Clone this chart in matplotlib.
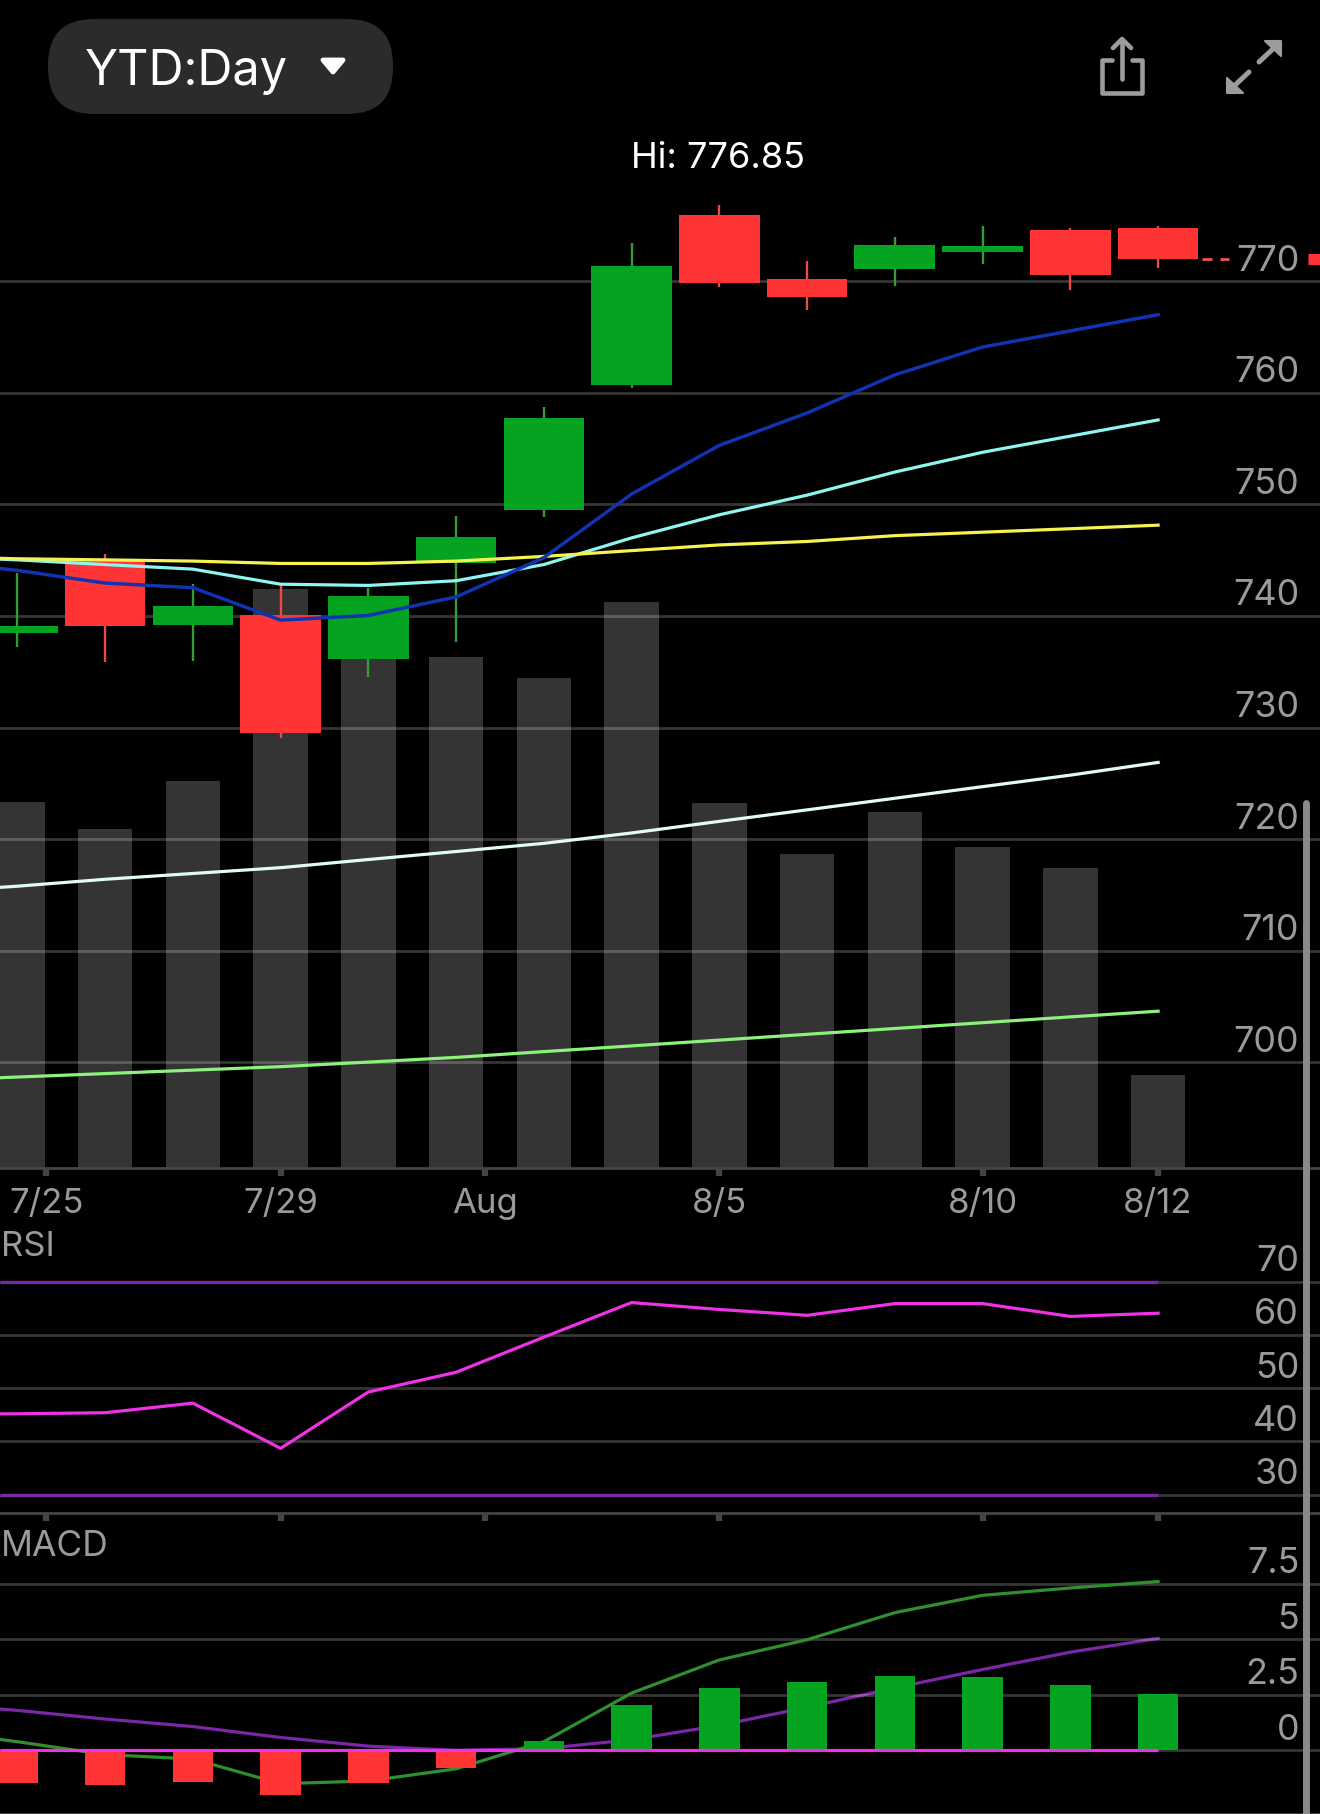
import numpy as np
import matplotlib
matplotlib.use('Agg')
import matplotlib.pyplot as plt
from matplotlib.patches import FancyBboxPatch, Polygon

plt.rcParams['font.family'] = ['Inter', 'DejaVu Sans']

W, H = 1320, 1814
SCALE = 1320 / 1141

GREY_TXT = '#9a9a9a'
ICON = '#9c9c9c'
RED = '#ff3535'
GREEN = '#04a320'
WICK_RED = '#f04848'
WICK_GREEN = '#2f9f33'

days = np.arange(14)
line_days = np.arange(-1, 14)
opens = [738.48, 745.02, 739.21, 740.04, 736.10, 744.70, 749.47, 760.67, 775.91, 770.21, 771.04, 772.59, 774.56, 774.77]
closes = [739.11, 739.11, 740.87, 729.47, 741.80, 747.09, 757.77, 771.35, 769.79, 768.55, 773.21, 773.11, 770.52, 771.97]
highs = [743.88, 745.53, 742.84, 742.84, 742.53, 748.95, 758.70, 773.42, 776.84, 771.76, 773.94, 774.98, 774.77, 774.98]
lows = [737.24, 735.89, 736.00, 729.05, 734.55, 737.66, 748.85, 760.46, 769.48, 767.41, 769.59, 771.56, 769.17, 771.14]
volume = [317, 293, 335, 501, 460, 442, 424, 490, 316, 272, 308, 278, 260, 81]

ma_blue = [744.91, 744.08, 742.94, 742.53, 739.62, 740.04, 741.70, 745.22, 750.92, 755.28, 758.18, 761.60, 764.09, 765.54, 766.99]
ma_cyan = [745.33, 745.02, 744.60, 744.19, 742.84, 742.73, 743.15, 744.60, 746.99, 749.06, 750.82, 752.89, 754.66, 756.11, 757.56]
ma_yellow = [745.33, 745.12, 745.02, 744.91, 744.70, 744.70, 744.91, 745.33, 745.85, 746.36, 746.67, 747.19, 747.50, 747.81, 748.13]
ma_white = [715.26, 715.78, 716.40, 716.92, 717.44, 718.17, 718.89, 719.62, 720.55, 721.59, 722.62, 723.66, 724.70, 725.73, 726.87]
ma_green = [698.37, 698.68, 698.99, 699.30, 699.61, 700.02, 700.44, 700.96, 701.47, 701.99, 702.51, 703.03, 703.55, 704.07, 704.58]

rsi = [45.1, 45.2, 45.4, 47.2, 38.7, 49.3, 53.0, 59.6, 66.1, 64.8, 63.7, 65.9, 65.9, 63.5, 64.1]
macd_hist = [-1.45, -1.55, -1.41, -2.0, -1.49, -0.78, 0.42, 2.03, 2.81, 3.07, 3.36, 3.31, 2.94, 2.55]
macd_line = [0.9, 0.39, -0.19, -0.39, -1.5, -1.38, -0.83, 0.39, 2.58, 4.07, 4.98, 6.2, 6.98, 7.31, 7.6]
macd_signal = [2.1, 1.8, 1.41, 1.07, 0.58, 0.19, 0.0, 0.08, 0.48, 1.12, 1.94, 2.81, 3.64, 4.42, 5.04]

date_ticks = [0.33, 3, 5.33, 8, 11, 13]
date_labels = ['7/25', '7/29', 'Aug', '8/5', '8/10', '8/12']
price_ticks = [700, 710, 720, 730, 740, 750, 760, 770]
rsi_ticks = [30, 40, 50, 60, 70]
macd_ticks = [0, 2.5, 5, 7.5]
macd_tick_labels = ['0', '2.5', '5', '7.5']

XLIM = (-0.198, 14.845)


def panel(fig, top, bottom):
    # top / bottom given in px of the 1141 wide view of the picture
    top, bottom = top * SCALE, bottom * SCALE
    ax = fig.add_axes([0, 1 - bottom / H, 1, (bottom - top) / H])
    ax.set_facecolor('none')
    ax.set_xlim(*XLIM)
    for side in ['top', 'left', 'right']:
        ax.spines[side].set_visible(False)
    ax.spines['bottom'].set_color('#444444')
    ax.spines['bottom'].set_linewidth(2)
    ax.tick_params(axis='y', length=0, labelleft=False)
    ax.tick_params(axis='x', length=6, width=4.5, color='#444444', labelbottom=False)
    ax.set_xticks(date_ticks)
    ax.grid(axis='y', color='white', alpha=0.21, lw=2)
    ax.set_axisbelow(False)
    return ax


def right_labels(ax, ticks, labels, size=25.8, dy=7.6):
    for t, lab in zip(ticks, labels):
        ax.annotate(lab, (1123 * SCALE / W, t), xycoords=ax.get_yaxis_transform(),
                    xytext=(0, dy), textcoords='offset points',
                    ha='right', va='baseline', color=GREY_TXT, fontsize=size)


fig = plt.figure(figsize=(W / 100, H / 100), dpi=100, facecolor='black')

# volume sits behind the price panel
ax_vol = fig.add_axes([0, 1 - 1010 * SCALE / H, 1, 910 * SCALE / H])
ax_vol.set_facecolor('black')
ax_vol.set_xlim(*XLIM)
ax_vol.set_ylim(0, 910)
ax_vol.axis('off')
ax_vol.bar(days, volume, width=0.62, color='#343434')

ax = panel(fig, 100, 1010)
ax.set_ylim(690.49, 784.82)
ax.set_yticks(price_ticks)
ax.tick_params(axis='x', labelbottom=True, labelcolor=GREY_TXT, labelsize=25, pad=8)
ax.set_xticklabels(date_labels)

for i in days:
    up = closes[i] >= opens[i]
    ax.vlines(i, lows[i], highs[i], color=WICK_GREEN if up else WICK_RED, lw=1.7, zorder=3)
    ax.bar(i, abs(closes[i] - opens[i]), bottom=min(opens[i], closes[i]), width=0.92,
           color=GREEN if up else RED, zorder=4)

ax.plot(line_days, ma_white, color='#e0fbf6', lw=2.3, zorder=5)
ax.plot(line_days, ma_green, color='#8cf27c', lw=2.3, zorder=5)
ax.plot(line_days, ma_yellow, color='#f6f252', lw=2.3, zorder=6)
ax.plot(line_days, ma_cyan, color='#8ef5f0', lw=2.3, zorder=5)
ax.plot(line_days, ma_blue, color='#1133b0', lw=2.5, zorder=7)
right_labels(ax, price_ticks, [str(t) for t in price_ticks])
ax.hlines(closes[-1], 13.5, 13.81, color='#f05050', lw=2, linestyles=(0, (3.6, 2.9)))
ax.hlines(closes[-1], 14.71, 14.9, color=RED, lw=8)

ax_rsi = panel(fig, 1060, 1308)
ax_rsi.set_ylim(26.52, 80.43)
ax_rsi.set_yticks(rsi_ticks)
ax_rsi.hlines([30, 70], XLIM[0], 13, color='#7a27a6', lw=2.4, zorder=4)
ax_rsi.plot(line_days, rsi, color='#f032e6', lw=2.3, zorder=5)
right_labels(ax_rsi, rsi_ticks, [str(t) for t in rsi_ticks])
ax_rsi.text(0.001, 0.985, 'RSI', transform=ax_rsi.transAxes, color=GREY_TXT, fontsize=25, va='top')

ax_macd = panel(fig, 1311, 1568)
ax_macd.set_ylim(-2.865, 10.52)
ax_macd.set_yticks(macd_ticks)
ax_macd.bar(days, macd_hist, width=0.46, color=[GREEN if v > 0 else RED for v in macd_hist], zorder=3)
ax_macd.plot(line_days, macd_signal, color='#7a27a6', lw=2.3, zorder=2.5)
ax_macd.plot(line_days, macd_line, color='#2f8f2f', lw=2.3, zorder=2.6)
ax_macd.hlines(0, XLIM[0], 13, color='#f032e6', lw=2.3, zorder=5)
right_labels(ax_macd, macd_ticks, macd_tick_labels)
ax_macd.text(0.001, 0.955, 'MACD', transform=ax_macd.transAxes, color=GREY_TXT, fontsize=25.5, va='top')
ax_macd.tick_params(axis='x', length=0)

# app chrome, in image pixels
ui = fig.add_axes([0, 0, 1, 1], zorder=10)
ui.set_xlim(0, W)
ui.set_ylim(H, 0)
ui.axis('off')
ui.add_patch(FancyBboxPatch((48, 19), 345, 95, boxstyle='round,pad=0,rounding_size=46',
                            fc='#2b2b2b', ec='none', zorder=1))
ui.text(85, 85, 'YTD:Day', color='white', fontsize=35, ha='left', va='baseline')
ui.add_patch(Polygon([(323, 60), (343, 60), (333, 72)], closed=True, fc='white', ec='white',
                     lw=3.5, joinstyle='round'))
ui.text(718, 158, 'Hi: 776.85', color='white', fontsize=26, ha='center', va='center')

# share icon
ui.plot([1112, 1102, 1102, 1142, 1142, 1132], [60, 60, 93, 93, 60, 60], color=ICON, lw=3.3,
        solid_joinstyle='round', solid_capstyle='round')
ui.plot([1122, 1122], [41, 79], color=ICON, lw=3.3, solid_capstyle='round')
ui.plot([1113, 1122, 1131], [48, 39, 48], color=ICON, lw=3.3, solid_capstyle='round', solid_joinstyle='round')

# expand icon
ui.plot([1259, 1275], [62, 47], color=ICON, lw=3.6, solid_capstyle='round')
ui.plot([1249, 1233], [72, 87], color=ICON, lw=3.6, solid_capstyle='round')
ui.add_patch(Polygon([(1265, 41), (1281, 41), (1281, 56)], closed=True, fc=ICON, ec=ICON, lw=1.5, joinstyle='round'))
ui.add_patch(Polygon([(1227, 78), (1227, 93), (1243, 93)], closed=True, fc=ICON, ec=ICON, lw=1.5, joinstyle='round'))

# scroll bar
ui.plot([1306, 1306], [803, 1830], color='#8a8a8a', lw=5, solid_capstyle='round')

fig.savefig('out.png', dpi=100, facecolor='black')
